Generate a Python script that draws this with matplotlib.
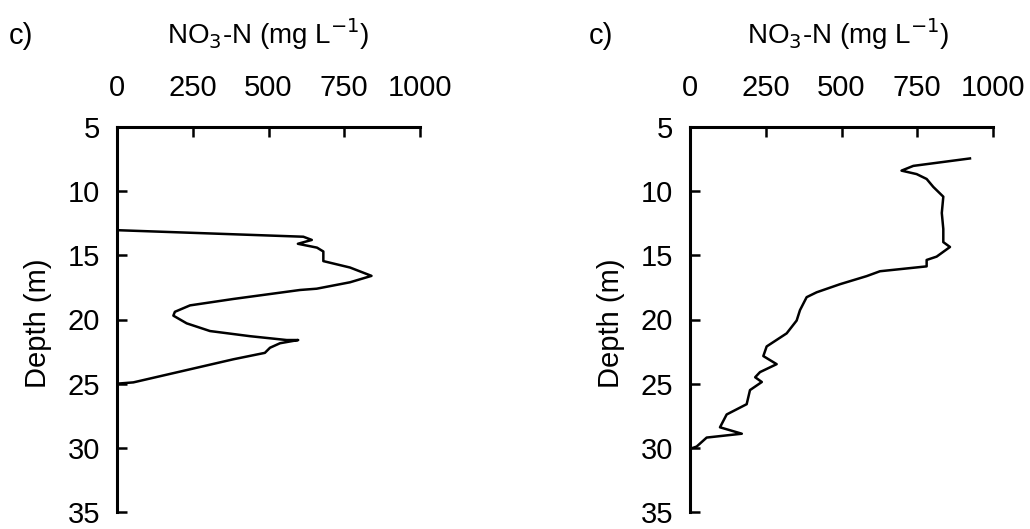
import numpy as np
import matplotlib
matplotlib.use("Agg")
import matplotlib.pyplot as plt

plt.rcParams['font.family'] = ['Liberation Sans', 'DejaVu Sans']

# profile 1: NO3-N concentration vs depth
no3_a = [0, 615, 643, 597, 660, 681, 681, 769, 840, 769, 659, 604, 384, 241, 191, 186,
         230, 307, 439, 560, 598, 538, 505, 488, 384, 274, 164, 54, 0]
depth_a = [13.04, 13.55, 13.8, 14.1, 14.4, 14.7, 15.45, 15.95, 16.6, 17.1, 17.6, 17.7, 18.4,
           18.9, 19.4, 19.7, 20.3, 20.9, 21.3, 21.6, 21.6, 21.85, 22.2, 22.6, 23.1, 23.7,
           24.3, 24.9, 25.0]

# profile 2
no3_b = [924, 737, 698, 748, 781, 803, 836, 831, 836, 836, 858, 814, 781, 781, 627, 583, 495,
         418, 385, 363, 352, 319, 253, 242, 286, 231, 215, 237, 198, 187, 121, 99, 171, 55, 22, 10]
depth_b = [7.45, 8.03, 8.4, 8.67, 9.05, 9.67, 10.43, 11.7, 12.95, 13.97, 14.35, 15.1, 15.36, 15.86,
           16.24, 16.62, 17.25, 17.88, 18.26, 19.27, 20.08, 21.08, 22.1, 22.85, 23.48, 24.1, 24.5,
           24.87, 25.5, 26.6, 27.4, 28.4, 28.9, 29.2, 29.9, 30.0]

xticks = [0, 250, 500, 750, 1000]
yticks = [5, 10, 15, 20, 25, 30, 35]

fig = plt.figure(figsize=(10.3, 5.29), dpi=100, facecolor='w')

def profile(ax, x, y):
    ax.plot(x, y, color='black', lw=1.8)
    ax.set_xlim(0, 1000)
    ax.set_ylim(35, 5)
    ax.set_xticks(xticks)
    ax.set_yticks(yticks)
    ax.xaxis.tick_top()
    for s in ['right', 'bottom']:
        ax.spines[s].set_visible(False)
    for s in ['left', 'top']:
        ax.spines[s].set_linewidth(2.2)
    ax.tick_params(axis='x', direction='in', length=7, width=1.8, labelsize=21, pad=18)
    ax.tick_params(axis='y', direction='in', length=7, width=1.8, labelsize=21, pad=12)
    ax.set_ylabel('Depth (m)', fontsize=21)
    ax.yaxis.set_label_coords(-0.215, 0.49)

ax1 = fig.add_axes([117/1030, 1 - 512/529, 303/1030, 385/529])
profile(ax1, no3_a, depth_a)

ax2 = fig.add_axes([690/1030, 1 - 512/529, 303/1030, 385/529])
profile(ax2, no3_b, depth_b)

for xc, xl in [(268, 21), (848, 601)]:
    fig.text(xc/1030, 1 - 34/529, r'NO$_3$-N (mg L$^{-1}$)', fontsize=20, ha='center', va='center')
    fig.text(xl/1030, 1 - 36/529, 'c)', fontsize=21, ha='center', va='center')

fig.savefig('out.png', dpi=100, facecolor='w')
